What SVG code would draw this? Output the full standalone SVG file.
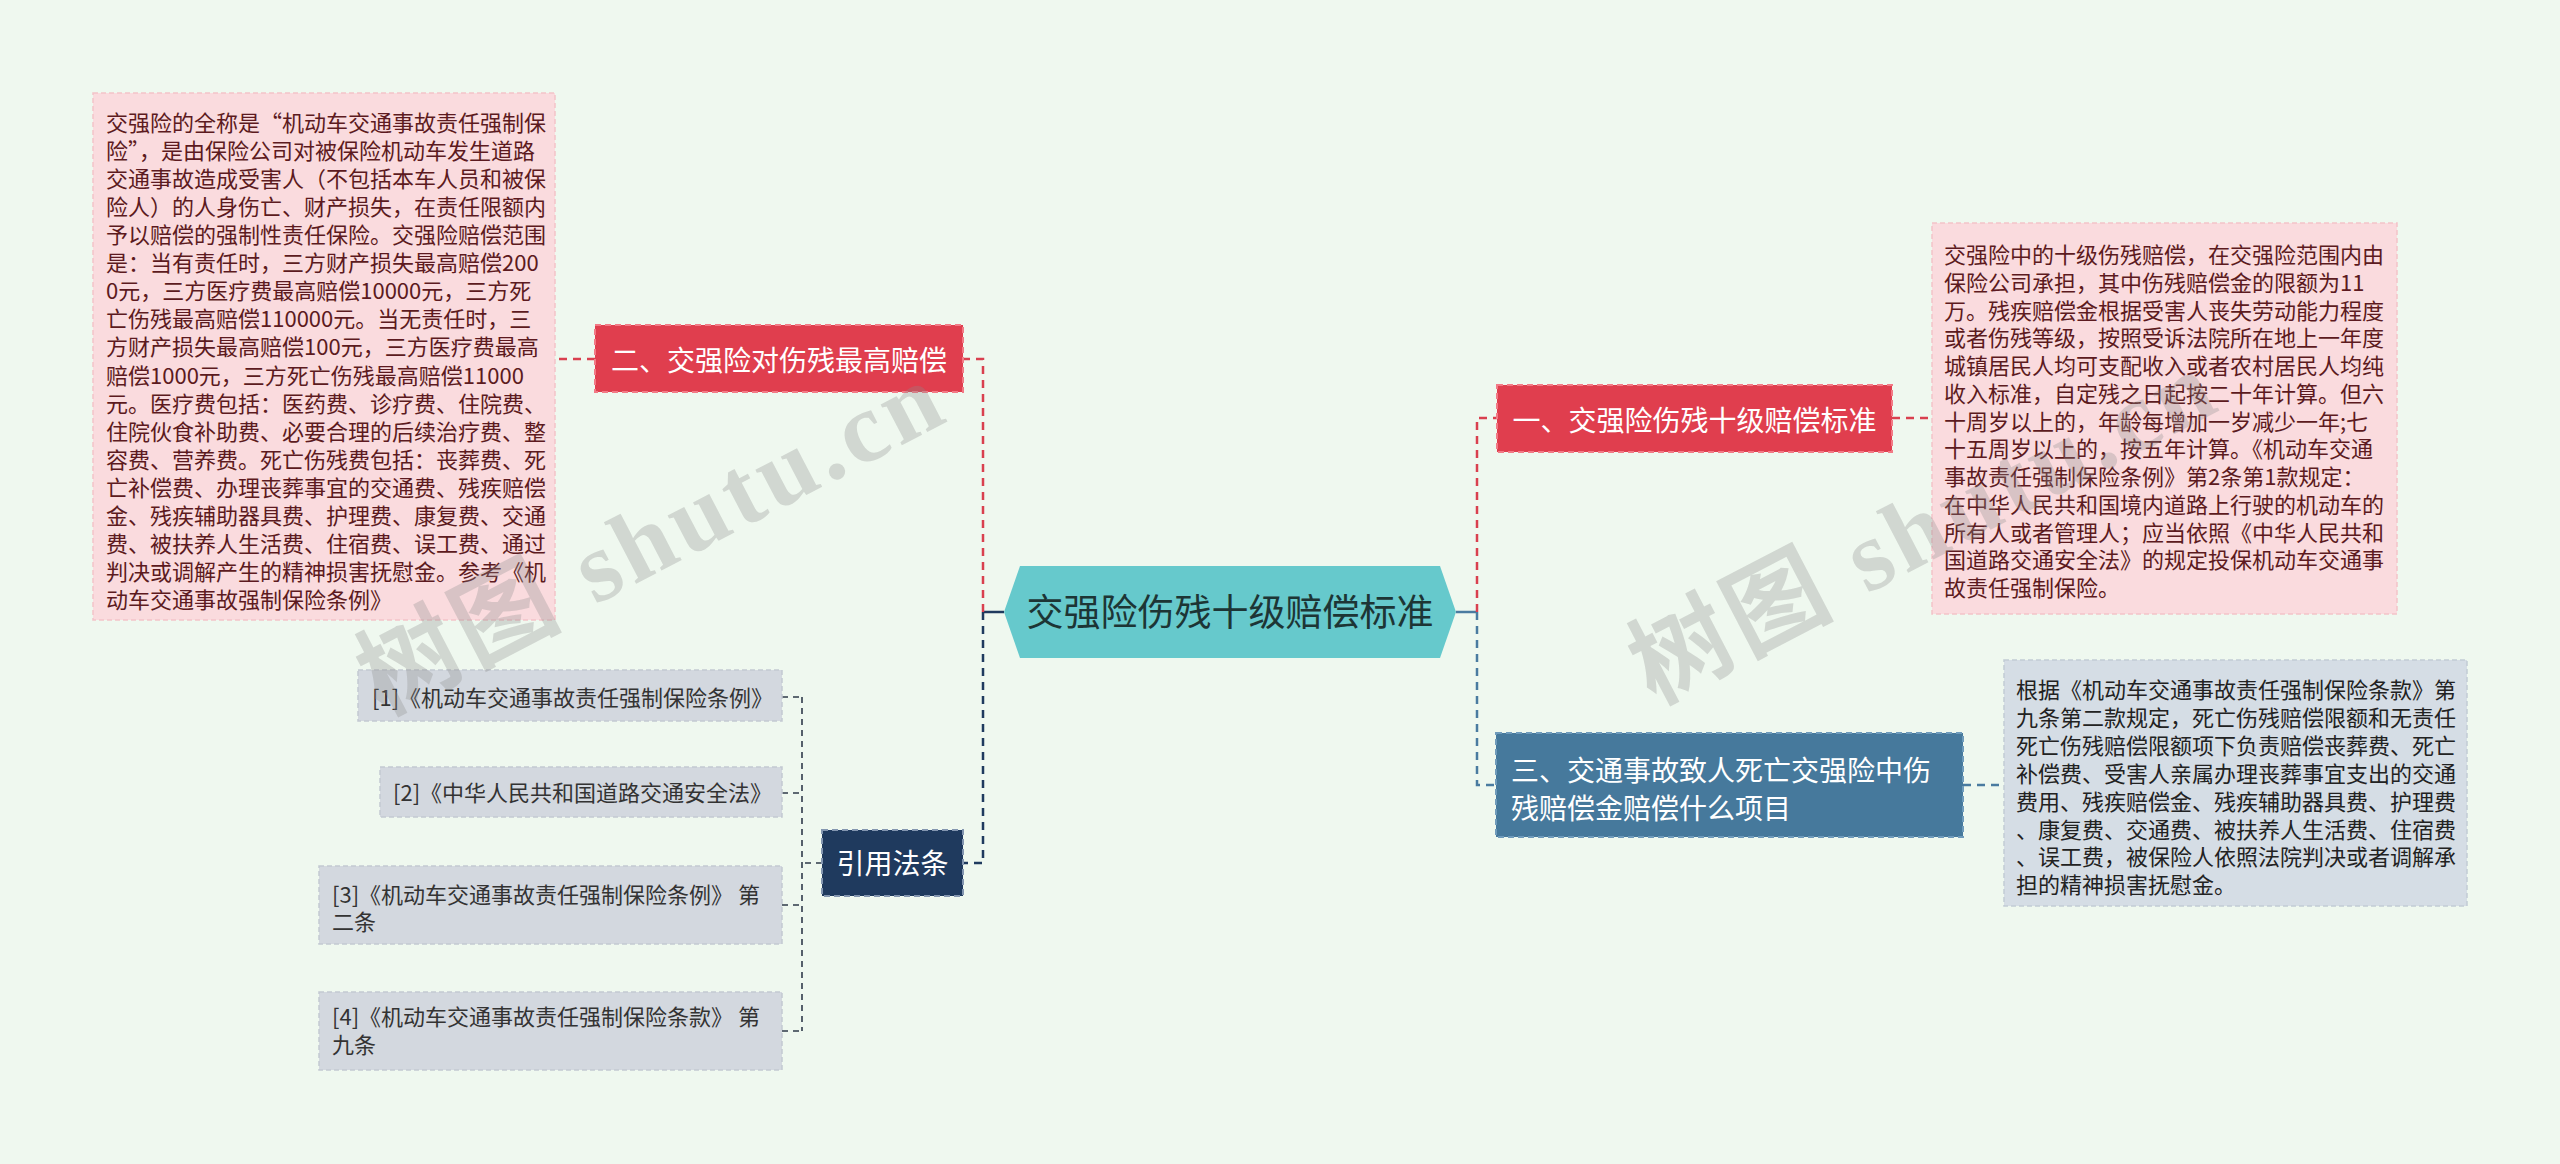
<svg xmlns="http://www.w3.org/2000/svg" width="2560" height="1164" viewBox="0 0 2560 1164">
<style>
  text { font-family: "Noto Sans CJK SC", "Noto Sans", sans-serif; }
  .pink { fill: #fadbde; stroke: #f3c3c9; stroke-width: 1.5; stroke-dasharray: 5 3; }
  .pinkt { fill: #5c1a20; font-size: 22px; }
  .gray { fill: #d5dde5; stroke: #c2cbd5; stroke-width: 1.5; stroke-dasharray: 5 3; }
  .grayt { fill: #222; font-size: 22px; }
  .ref { fill: #d3d8df; stroke: #c3c9d2; stroke-width: 1.5; stroke-dasharray: 5 3; }
  .reft { fill: #333; font-size: 22px; }
  .red { fill: #e03e4e; stroke: #f27a86; stroke-width: 2; stroke-dasharray: 6 4; }
  .blue { fill: #46799c; stroke: #6f9bbb; stroke-width: 2; stroke-dasharray: 6 4; }
  .navy { fill: #1f3a5e; stroke: #8396b0; stroke-width: 2; stroke-dasharray: 6 4; }
  .wt { fill: #fff; font-size: 28px; }
  .c-red { fill: none; stroke: #d9404f; stroke-width: 2.5; stroke-dasharray: 8 6; }
  .c-blue { fill: none; stroke: #4a7ba0; stroke-width: 2.5; stroke-dasharray: 8 6; }
  .c-navy { fill: none; stroke: #1f3a5e; stroke-width: 2.5; stroke-dasharray: 8 6; }
  .c-ref { fill: none; stroke: #2f3a4a; stroke-width: 1.6; stroke-dasharray: 6 5; }
  .wm { fill: #8a8a8a; fill-opacity: 0.3; font-family: "Liberation Serif", "Noto Sans CJK SC", serif; font-size: 100px; font-weight: bold; letter-spacing: 5px; }
</style>
<rect x="0" y="0" width="2560" height="1164" fill="#eff8ef"/>

<g id="connectors">
  <line x1="983" y1="612" x2="1004" y2="612" stroke="#1f3a5e" stroke-width="2.5"/>
  <line x1="1456" y1="612" x2="1477" y2="612" stroke="#4a7ba0" stroke-width="2.5"/>
  <path class="c-red" d="M983,612 V359 H963"/>
  <path class="c-red" d="M595,359 H555"/>
  <path class="c-navy" d="M983,612 V863 H963"/>
  <path class="c-red" d="M1477,612 V418 H1497"/>
  <path class="c-red" d="M1892,418 H1932"/>
  <path class="c-blue" d="M1477,612 V785 H1496"/>
  <path class="c-blue" d="M1963,785 H2004"/>
  <path class="c-ref" d="M822,863 H802"/>
  <path class="c-ref" d="M802,697 V1031"/>
  <path class="c-ref" d="M782,697 H802"/>
  <path class="c-ref" d="M782,793 H802"/>
  <path class="c-ref" d="M782,905 H802"/>
  <path class="c-ref" d="M782,1031 H802"/>
</g>

<g id="node-center">
  <polygon points="1004,612 1020,566 1440,566 1456,612 1440,658 1020,658" fill="#66c9cc"/>
  <text x="1230" y="626" font-size="37" text-anchor="middle" fill="#1d3535">交强险伤残十级赔偿标准</text>
</g>

<g id="node-er">
  <rect class="red" x="595" y="325" width="368" height="67"/>
  <text class="wt" x="779" y="371" text-anchor="middle">二、交强险对伤残最高赔偿</text>
</g>

<g id="node-er-detail">
  <rect class="pink" x="93" y="93" width="462" height="527"/>
  <text class="pinkt">
    <tspan x="106" y="131">交强险的全称是“机动车交通事故责任强制保</tspan>
    <tspan x="106" y="159.06">险”，是由保险公司对被保险机动车发生道路</tspan>
    <tspan x="106" y="187.12">交通事故造成受害人（不包括本车人员和被保</tspan>
    <tspan x="106" y="215.18">险人）的人身伤亡、财产损失，在责任限额内</tspan>
    <tspan x="106" y="243.24">予以赔偿的强制性责任保险。交强险赔偿范围</tspan>
    <tspan x="106" y="271.3">是：当有责任时，三方财产损失最高赔偿200</tspan>
    <tspan x="106" y="299.36">0元，三方医疗费最高赔偿10000元，三方死</tspan>
    <tspan x="106" y="327.42">亡伤残最高赔偿110000元。当无责任时，三</tspan>
    <tspan x="106" y="355.48">方财产损失最高赔偿100元，三方医疗费最高</tspan>
    <tspan x="106" y="383.54">赔偿1000元，三方死亡伤残最高赔偿11000</tspan>
    <tspan x="106" y="411.6">元。医疗费包括：医药费、诊疗费、住院费、</tspan>
    <tspan x="106" y="439.66">住院伙食补助费、必要合理的后续治疗费、整</tspan>
    <tspan x="106" y="467.72">容费、营养费。死亡伤残费包括：丧葬费、死</tspan>
    <tspan x="106" y="495.78">亡补偿费、办理丧葬事宜的交通费、残疾赔偿</tspan>
    <tspan x="106" y="523.84">金、残疾辅助器具费、护理费、康复费、交通</tspan>
    <tspan x="106" y="551.9">费、被扶养人生活费、住宿费、误工费、通过</tspan>
    <tspan x="106" y="579.96">判决或调解产生的精神损害抚慰金。参考《机</tspan>
    <tspan x="106" y="608.02">动车交通事故强制保险条例》</tspan>
  </text>
</g>

<g id="node-yi">
  <rect class="red" x="1497" y="385" width="395" height="67"/>
  <text class="wt" x="1694.5" y="431" text-anchor="middle">一、交强险伤残十级赔偿标准</text>
</g>

<g id="node-yi-detail">
  <rect class="pink" x="1932" y="223" width="465" height="391"/>
  <text class="pinkt">
    <tspan x="1944" y="263">交强险中的十级伤残赔偿，在交强险范围内由</tspan>
    <tspan x="1944" y="290.75">保险公司承担，其中伤残赔偿金的限额为11</tspan>
    <tspan x="1944" y="318.5">万。残疾赔偿金根据受害人丧失劳动能力程度</tspan>
    <tspan x="1944" y="346.25">或者伤残等级，按照受诉法院所在地上一年度</tspan>
    <tspan x="1944" y="374">城镇居民人均可支配收入或者农村居民人均纯</tspan>
    <tspan x="1944" y="401.75">收入标准，自定残之日起按二十年计算。但六</tspan>
    <tspan x="1944" y="429.5">十周岁以上的，年龄每增加一岁减少一年;七</tspan>
    <tspan x="1944" y="457.25">十五周岁以上的，按五年计算。《机动车交通</tspan>
    <tspan x="1944" y="485">事故责任强制保险条例》第2条第1款规定：</tspan>
    <tspan x="1944" y="512.75">在中华人民共和国境内道路上行驶的机动车的</tspan>
    <tspan x="1944" y="540.5">所有人或者管理人；应当依照《中华人民共和</tspan>
    <tspan x="1944" y="568.25">国道路交通安全法》的规定投保机动车交通事</tspan>
    <tspan x="1944" y="596">故责任强制保险。</tspan>
  </text>
</g>

<g id="node-san">
  <rect class="blue" x="1496" y="733" width="467" height="104"/>
  <text class="wt">
    <tspan x="1511" y="781">三、交通事故致人死亡交强险中伤</tspan>
    <tspan x="1511" y="819">残赔偿金赔偿什么项目</tspan>
  </text>
</g>

<g id="node-san-detail">
  <rect class="gray" x="2004" y="660" width="463" height="246"/>
  <text class="grayt">
    <tspan x="2016" y="698">根据《机动车交通事故责任强制保险条款》第</tspan>
    <tspan x="2016" y="725.9">九条第二款规定，死亡伤残赔偿限额和无责任</tspan>
    <tspan x="2016" y="753.8">死亡伤残赔偿限额项下负责赔偿丧葬费、死亡</tspan>
    <tspan x="2016" y="781.7">补偿费、受害人亲属办理丧葬事宜支出的交通</tspan>
    <tspan x="2016" y="809.6">费用、残疾赔偿金、残疾辅助器具费、护理费</tspan>
    <tspan x="2016" y="837.5">、康复费、交通费、被扶养人生活费、住宿费</tspan>
    <tspan x="2016" y="865.4">、误工费，被保险人依照法院判决或者调解承</tspan>
    <tspan x="2016" y="893.3">担的精神损害抚慰金。</tspan>
  </text>
</g>

<g id="node-refs">
  <rect class="navy" x="822" y="830" width="141" height="66"/>
  <text class="wt" x="892.5" y="874" text-anchor="middle">引用法条</text>
</g>

<g id="ref-1">
  <rect class="ref" x="358" y="670" width="424" height="51"/>
  <text class="reft" x="372" y="706">[1]《机动车交通事故责任强制保险条例》</text>
</g>
<g id="ref-2">
  <rect class="ref" x="380" y="767" width="402" height="50"/>
  <text class="reft" x="393" y="801">[2]《中华人民共和国道路交通安全法》</text>
</g>
<g id="ref-3">
  <rect class="ref" x="319" y="866" width="463" height="78"/>
  <text class="reft">
    <tspan x="332" y="903">[3]《机动车交通事故责任强制保险条例》 第</tspan>
    <tspan x="332" y="930">二条</tspan>
  </text>
</g>
<g id="ref-4">
  <rect class="ref" x="319" y="992" width="463" height="78"/>
  <text class="reft">
    <tspan x="332" y="1025">[4]《机动车交通事故责任强制保险条款》 第</tspan>
    <tspan x="332" y="1053">九条</tspan>
  </text>
</g>

<g id="watermark">
  <text class="wm" x="382" y="716" transform="rotate(-27.5 382 716)">树图 shutu.cn</text>
  <text class="wm" x="1654" y="705" transform="rotate(-27.5 1654 705)">树图 shutu.cn</text>
</g>
</svg>
